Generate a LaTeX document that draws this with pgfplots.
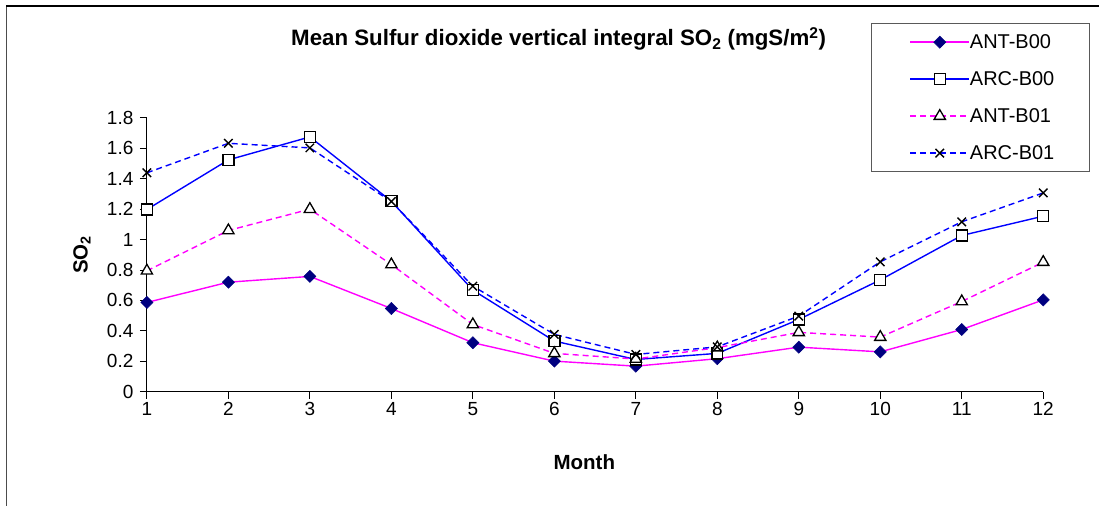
\documentclass[border=0pt]{standalone}
\usepackage{pgfplots}
\pgfplotsset{compat=1.18}
\usepackage{fontspec}
\setmainfont{Liberation Sans}
\definecolor{antc}{RGB}{255,0,255}
\definecolor{arcc}{RGB}{0,0,255}
\definecolor{navyc}{RGB}{0,0,128}
\begin{document}
\begin{tikzpicture}[x=1pt,y=1pt]
\path (0,0) rectangle (1100,506);
\draw[black!70, line width=1pt] (7,0) -- (7,500);
\draw[black, line width=1.6pt] (6.5,500) -- (1100,500);
\begin{axis}[
  at={(147pt,114pt)}, anchor=south west,
  scale only axis, width=897pt, height=274pt,
  xmin=1, xmax=12, ymin=0, ymax=1.8,
  clip=false,
  axis x line*=bottom, axis y line*=left,
  axis line style={-, black, line width=0.9pt},
  xtick={1,2,3,4,5,6,7,8,9,10,11,12},
  ytick={0,0.2,0.4,0.6,0.8,1,1.2,1.4,1.6,1.8},
  tick align=outside, major tick length=7pt,
  tick style={black, line width=0.9pt},
  /pgf/number format/assume math mode=true,
  tick label style={font=\fontsize{19}{22}\selectfont},
  yticklabel style={xshift=-3pt},
  title={\textbf{Mean Sulfur dioxide vertical integral SO\textsubscript{2} (mgS/m\textsuperscript{2})}},
  title style={at={(0.4593,1.2664)}, anchor=center, font=\fontsize{22.3}{26}\selectfont},
  xlabel={\textbf{Month}},
  xlabel style={at={(0.488,-0.259)}, anchor=center, font=\fontsize{20.5}{24}\selectfont},
  ylabel={\textbf{SO\textsubscript{2}}},
  ylabel style={at={(-0.0725,0.5)}, anchor=center, font=\fontsize{20.5}{24}\selectfont},
  legend cell align=left,
  legend style={at={(0.8083,1.3467)}, anchor=north west, draw=none, fill=white,
    inner xsep=38pt, inner ysep=12.5pt, row sep=24pt, font=\fontsize{20}{23}\selectfont,
    nodes={inner sep=0pt, text height=13pt, text depth=0pt, font=\fontsize{20}{23}\selectfont},
    /tikz/every even column/.append style={column sep=6pt}},
  legend image code/.code={\draw[mark repeat=2,mark phase=2] plot coordinates {(0pt,0pt) (29.5pt,0pt) (59pt,0pt)};},
]
\addplot[antc, solid, line width=1.4pt, mark=square*, mark size=4.3pt,
  mark options={solid, rotate=45, fill=navyc, draw=navyc, line width=0.5pt}] coordinates {
(1,0.587) (2,0.72) (3,0.758) (4,0.547) (5,0.322) (6,0.201) (7,0.168) (8,0.217) (9,0.293) (10,0.262) (11,0.409) (12,0.604)};
\addlegendentry{ANT-B00}
\addplot[arcc, solid, line width=1.4pt, mark=square*, mark size=5.5pt,
  mark options={solid, fill=white, draw=black, line width=1.4pt}] coordinates {
(1,1.198) (2,1.524) (3,1.675) (4,1.252) (5,0.668) (6,0.333) (7,0.212) (8,0.252) (9,0.475) (10,0.735) (11,1.027) (12,1.154)};
\addlegendentry{ARC-B00}
\addplot[antc, dash pattern=on 6pt off 4pt, line width=1.4pt, mark=triangle*, mark size=6.5pt,
  mark options={solid, fill=white, draw=black, line width=1.3pt}] coordinates {
(1,0.795) (2,1.06) (3,1.2) (4,0.836) (5,0.442) (6,0.252) (7,0.215) (8,0.29) (9,0.39) (10,0.359) (11,0.593) (12,0.852)};
\addlegendentry{ANT-B01}
\addplot[arcc, dash pattern=on 6pt off 4pt, line width=1.4pt, mark=x, mark size=6pt,
  mark options={solid, draw=black, line width=1.4pt}] coordinates {
(1,1.439) (2,1.633) (3,1.603) (4,1.25) (5,0.694) (6,0.377) (7,0.245) (8,0.295) (9,0.497) (10,0.854) (11,1.117) (12,1.307)};
\addlegendentry{ARC-B01}
\end{axis}
\draw[black!65, line width=0.9pt] (872,334) rectangle (1090,483);
\end{tikzpicture}
\end{document}
